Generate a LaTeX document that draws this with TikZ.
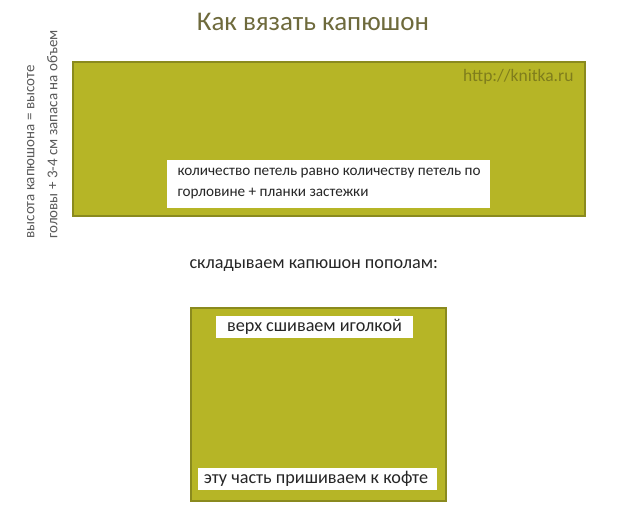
\documentclass[tikz,border=0pt]{standalone}
\usepackage{fontspec}
\setmainfont{Carlito}
\definecolor{olivefill}{HTML}{B6B526}
\definecolor{oliveline}{HTML}{8A8A1E}
\definecolor{titlecol}{HTML}{6E6A3C}
\definecolor{urlcol}{HTML}{7F7D1C}
\definecolor{graytext}{HTML}{5A5A5A}
\begin{document}
\begin{tikzpicture}[x=1pt,y=-1pt,
  panel/.style={draw=oliveline,fill=olivefill,line width=1.2pt},
  txt/.style={text=black!85,font=\fontsize{15.2}{18}\selectfont},
  bigtxt/.style={text=black!85,font=\fontsize{18.2}{21}\selectfont},
]
\useasboundingbox (0,0) rectangle (620,531);
% title
\node[text=titlecol,font=\fontsize{27}{32}\selectfont] (title) at (313,22) {Как вязать капюшон};
% top panel
\draw[panel] (73,62) rectangle (585,216);
\node[text=urlcol,font=\fontsize{17.5}{20}\selectfont,anchor=east] (url) at (577,77) {http://knitka.ru};
\fill[white] (167,160) rectangle (490,208);
\node[txt,anchor=west,align=left] (count) at (174,184) {количество петель равно количеству петель по\\[3pt]горловине + планки застежки};
% vertical note
\node[text=graytext,font=\fontsize{15}{23}\selectfont,rotate=90,anchor=south west,align=left] (height) at (61,242) {высота капюшона = высоте\\головы + 3-4 см запаса на объем};
% fold note
\node[bigtxt,anchor=west] (fold) at (186,266) {складываем капюшон пополам:};
% bottom panel
\draw[panel] (191,308) rectangle (446,501);
\fill[white] (216,316) rectangle (413,338);
\node[bigtxt] (top) at (314.5,327) {верх сшиваем иголкой};
\fill[white] (198,468) rectangle (437,490);
\node[bigtxt] (bottom) at (316,479) {эту часть пришиваем к кофте};
\end{tikzpicture}
\end{document}
